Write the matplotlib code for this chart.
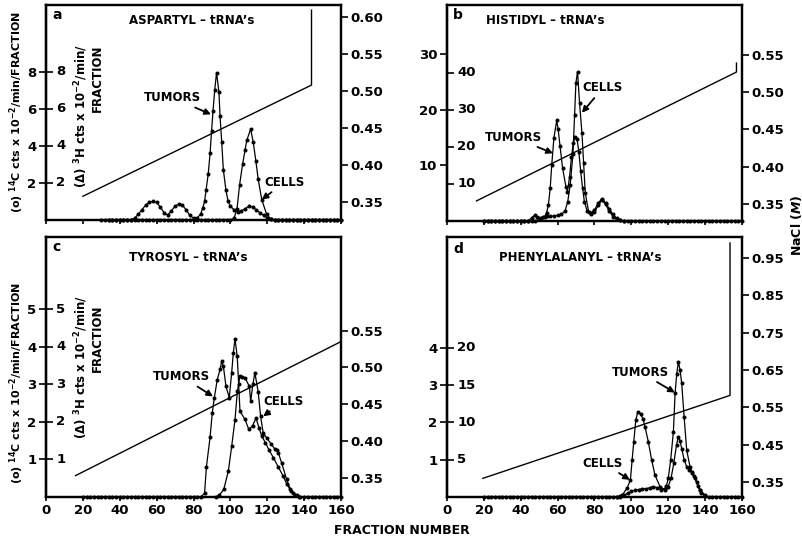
import matplotlib
matplotlib.use("Agg")
import matplotlib.pyplot as plt

plt.rcParams['font.family'] = ['DejaVu Sans']
plt.rcParams['font.weight'] = 'bold'
plt.rcParams['font.size'] = 9

# ---- panel a : aspartyl ----
a_tum_f = [34, 36, 38, 40, 42, 44, 46, 48, 50, 52, 54, 56, 58, 60, 62, 64, 66, 68, 70, 72, 74, 76, 78, 80, 82,
           84, 85, 86, 86.8, 88, 89, 89.8, 90.6, 91.5, 92.5, 93.8, 94.4, 95.3, 96.2, 97.6, 98.8, 100, 102, 104,
           106, 108, 110, 112, 114, 116, 118, 120, 122, 124, 126, 128, 130, 132, 134, 136, 138, 140, 142, 144,
           146, 148, 150, 152, 154, 156, 158, 160]
a_tum_v = [0, 0, 0, 0, 0, 0, 0, 0.1, 0.3, 0.55, 0.8, 0.95, 1.0, 0.95, 0.7, 0.4, 0.27, 0.5, 0.75, 0.86, 0.8, 0.55,
           0.25, 0.1, 0.1, 0.35, 0.65, 1.0, 1.6, 2.5, 3.6, 4.8, 5.9, 7.0, 7.95, 6.9, 5.6, 4.2, 2.7, 1.6, 1.0, 0.75,
           0.55, 0.45, 0.5, 0.6, 0.75, 0.7, 0.55, 0.4, 0.25, 0.12, 0.05, 0, 0, 0, 0, 0, 0, 0, 0, 0, 0, 0, 0, 0, 0, 0,
           0, 0, 0, 0]
a_cel_f = [30, 32, 34, 36, 38, 40, 42, 44, 46, 48, 50, 52, 54, 56, 58, 60, 62, 64, 66, 68, 70, 72, 74, 76, 78, 80,
           82, 84, 86, 88, 90, 92, 94, 96, 98, 100, 102, 103.6, 105, 106.6, 108, 108.9, 111, 112.4, 113.8, 115.1,
           117, 119.7, 122, 124, 126, 128, 130, 132, 134, 136, 138, 140, 142, 144, 146, 148, 150, 152, 154, 156,
           158, 160]
a_cel_v = [0, 0, 0, 0, 0, 0, 0, 0, 0, 0, 0, 0, 0, 0, 0, 0, 0, 0, 0, 0, 0, 0, 0, 0, 0, 0, 0, 0, 0, 0, 0, 0, 0, 0,
           0, 0, 0.1, 0.6, 1.9, 3.0, 3.8, 4.3, 4.9, 4.2, 3.2, 2.2, 1.1, 0.3, 0.05, 0, 0, 0, 0, 0, 0, 0, 0, 0, 0,
           0, 0, 0, 0, 0, 0, 0, 0, 0]
a_nacl_f = [20, 144, 144]
a_nacl_v = [0.358, 0.508, 0.609]

# ---- panel b : histidyl ----
b_tum_f = [20, 22, 24, 26, 28, 30, 32, 34, 36, 38, 40, 42, 44, 46, 47.7, 49, 51, 53, 54, 55, 56, 56.8, 58, 59.5,
           60.3, 61.3, 62.7, 64.5, 65.3, 66.5, 67.5, 68.5, 69.5, 70.5, 71.5, 72.5, 73.5, 74.5, 76, 78, 80, 82, 84,
           86, 88, 90, 92, 94, 96]
b_tum_v = [0, 0, 0, 0, 0, 0, 0, 0, 0, 0, 0, 0, 0, 0.6, 1.1, 0.8, 0.6, 0.8, 1.5, 2.9, 6.0, 10.1, 15.0, 18.1, 16.5,
           13.5, 9.5, 6.2, 5.3, 8.0, 11.5, 14.0, 15.2, 14.8, 12.5, 9.0, 6.0, 3.5, 1.8, 1.3, 1.6, 2.8, 3.8, 3.0,
           1.8, 0.8, 0.3, 0.1, 0]
b_cel_f = [20, 22, 24, 26, 28, 30, 32, 34, 36, 38, 40, 42, 44, 46, 48, 50, 52, 54, 56, 58, 60, 62, 64, 65.5, 66.8,
           68.3, 69.2, 69.9, 70.8, 71.9, 73.2, 74.1, 75, 76.8, 78, 80, 82, 83.9, 86, 88, 90, 92, 94, 96, 98, 100,
           102, 104, 106, 108, 110, 112, 114, 116, 118, 120, 122, 124, 126, 128, 130, 132, 134, 136, 138, 140,
           142, 144, 146, 148, 150, 152, 154, 156, 158, 160]
b_cel_v = [0, 0, 0, 0, 0, 0, 0, 0, 0, 0, 0, 0, 0, 0, 0, 0.3, 0.8, 0.9, 0.9, 0.9, 1.0, 1.2, 1.8, 3.5, 6.5, 12.0,
           19.0, 24.8, 26.9, 21.2, 15.8, 10.4, 5.0, 1.7, 1.4, 2.0, 3.2, 4.0, 3.3, 2.2, 1.2, 0.5, 0.1, 0, 0, 0, 0,
           0, 0, 0, 0, 0, 0, 0, 0, 0, 0, 0, 0, 0, 0, 0, 0, 0, 0, 0, 0, 0, 0, 0, 0, 0, 0, 0, 0, 0]
b_nacl_f = [16, 157, 157]
b_nacl_v = [0.354, 0.527, 0.539]

# ---- panel c : tyrosyl ----
c_tum_f = [20, 22, 24, 26, 28, 30, 32, 34, 36, 38, 40, 42, 44, 46, 48, 50, 52, 54, 56, 58, 60, 62, 64, 66, 68, 70,
           72, 74, 76, 78, 80, 82, 84, 86, 87, 89, 90.2, 91.3, 92.9, 94.4, 95.3, 96.2, 97.6, 99.4, 100.7, 101.6,
           102.5, 103.7, 104.5, 105.2, 107.9, 110, 112, 113.9, 115.5, 117, 119, 121, 123.3, 126, 128.7, 130.5,
           132.4, 134, 136, 138, 140, 142, 144, 146, 148, 150, 152, 154, 156, 158, 160]
c_tum_v = [0, 0, 0, 0, 0, 0, 0, 0, 0, 0, 0, 0, 0, 0, 0, 0, 0, 0, 0, 0, 0, 0, 0, 0, 0, 0, 0, 0, 0, 0, 0, 0, 0,
           0.1, 0.8, 1.6, 2.25, 2.65, 3.13, 3.4, 3.62, 3.49, 2.95, 2.65, 3.31, 3.84, 4.22, 3.75, 3.0, 2.29, 2.07,
           1.8, 1.9, 2.1, 1.85, 1.62, 1.45, 1.25, 1.05, 0.8, 0.55, 0.35, 0.2, 0.1, 0.05, 0, 0, 0, 0, 0, 0, 0, 0,
           0, 0, 0, 0]
c_cel_f = [92, 94, 96.4, 98.9, 100.7, 102.5, 103.8, 105.2, 106.5, 107.9, 110.3, 111, 112.2, 113.3, 115.1, 116.4,
           117.8, 119.6, 122.3, 124.2, 125.2, 126, 127.8, 130.5, 133, 135, 137]
c_cel_v = [0, 0.05, 0.2, 0.69, 1.35, 2.06, 2.82, 3.22, 3.2, 3.18, 2.95, 2.55, 3.0, 3.31, 2.8, 2.15, 1.71, 1.58,
           1.4, 1.27, 1.25, 1.18, 0.91, 0.47, 0.15, 0.05, 0]
c_nacl_f = [16, 160]
c_nacl_v = [0.353, 0.535]

# ---- panel d : phenylalanyl ----
d_tum_f = [20, 22, 24, 26, 28, 30, 32, 34, 36, 38, 40, 42, 44, 46, 48, 50, 52, 54, 56, 58, 60, 62, 64, 66, 68, 70,
           72, 74, 76, 78, 80, 82, 84, 86, 88, 90, 92, 94, 96, 98, 100, 102, 104, 106, 108, 110, 112, 114, 116,
           118, 119, 120, 121.3, 122.8, 123.7, 124.6, 125.5, 126.4, 127.3, 128.6, 130, 131.8, 133, 134.5, 136,
           137.2, 140, 142, 144, 146, 148, 150, 152, 154, 156, 158, 160]
d_tum_v = [0, 0, 0, 0, 0, 0, 0, 0, 0, 0, 0, 0, 0, 0, 0, 0, 0, 0, 0, 0, 0, 0, 0, 0, 0, 0, 0, 0, 0, 0, 0, 0, 0, 0,
           0, 0, 0, 0, 0.05, 0.1, 0.15, 0.18, 0.2, 0.22, 0.22, 0.25, 0.28, 0.25, 0.2, 0.22, 0.3, 0.5, 0.99, 1.75,
           2.78, 3.3, 3.63, 3.4, 3.05, 2.15, 1.26, 0.81, 0.65, 0.5, 0.3, 0.19, 0.05, 0, 0, 0, 0, 0, 0, 0, 0, 0, 0]
d_cel_f = [92, 94, 95, 97.7, 99.5, 100.4, 101.3, 102.4, 103.5, 105, 106.3, 107.4, 109.2, 111, 112.8, 115.5, 118.2,
           120, 121.5, 123, 124.5, 125.5, 126.4, 127.3, 128.6, 130, 131.5, 132.7, 134, 135.4, 137, 138, 140]
d_cel_v = [0, 0.02, 0.05, 0.24, 0.46, 0.99, 1.48, 2.06, 2.29, 2.22, 2.1, 1.88, 1.48, 0.99, 0.59, 0.28, 0.19, 0.28,
           0.5, 0.9, 1.4, 1.62, 1.5, 1.3, 1.0, 0.81, 0.72, 0.68, 0.55, 0.41, 0.2, 0.1, 0.02]
d_nacl_f = [19.5, 153.5, 153.5]
d_nacl_v = [0.36, 0.582, 0.99]

fractions = [0, 20, 40, 60, 80, 100, 120, 140, 160]

W, H = 803, 540
fig = plt.figure(figsize=(W / 100, H / 100), dpi=100)


def rect(left, top, right, bottom):
    return [left / W, 1 - bottom / H, (right - left) / W, (bottom - top) / H]


def panel(r, ytop, outer, inner, ratio, nlim, nticks, xlab):
    ax = fig.add_axes(r)
    ax.set_xlim(0, 160)
    ax.set_ylim(0, ytop)
    ax.set_xticks(fractions)
    if xlab:
        ax.set_xticklabels([str(f) for f in fractions], fontsize=9.5)
    else:
        ax.set_xticklabels([])
    ax.tick_params(axis='x', direction='out', length=3, width=1.2, pad=2)
    ax.set_yticks(outer)
    ax.set_yticklabels([str(t) for t in outer], fontsize=9.5)
    ax.tick_params(axis='y', direction='out', length=5, width=1.2, pad=2)
    for s in ax.spines.values():
        s.set_linewidth(1.6)
    sec = ax.secondary_yaxis('left', functions=(lambda v: v * ratio, lambda v: v / ratio))
    sec.set_yticks(inner)
    sec.set_yticklabels([])
    sec.tick_params(axis='y', direction='in', length=5, width=1.2)
    sec.spines['left'].set_linewidth(1.6)
    for t in inner:
        ax.text(0.035, t / ratio, str(t), transform=ax.get_yaxis_transform(),
                ha='left', va='center', fontsize=9.5)
    tw = ax.twinx()
    tw.set_ylim(*nlim)
    tw.set_yticks(nticks)
    tw.set_yticklabels(['%.2f' % t for t in nticks], fontsize=9.5)
    tw.tick_params(axis='y', direction='out', length=5, width=1.2, pad=2)
    for s in tw.spines.values():
        s.set_linewidth(1.6)
    return ax, tw


def curve(ax, f, v):
    ax.plot(f, v, '-', color='black', lw=0.9, marker='o', ms=1.9, clip_on=False, zorder=3)


arrow = dict(arrowstyle='-|>', color='black', lw=1.3, mutation_scale=9, shrinkA=1, shrinkB=0)

# panel a
ax, tw = panel(rect(46, 5, 341, 220), 11.6, [2, 4, 6, 8], [2, 4, 6, 8], 1,
               (0.326, 0.616), [0.35, 0.40, 0.45, 0.50, 0.55, 0.60], False)
curve(ax, a_tum_f, a_tum_v)
curve(ax, a_cel_f, a_cel_v)
tw.plot(a_nacl_f, a_nacl_v, color='black', lw=1.0)
ax.text(0.02, 0.955, 'a', transform=ax.transAxes, fontsize=10, ha='left', va='center')
ax.text(0.495, 0.93, "ASPARTYL – tRNA’s", transform=ax.transAxes, ha='center', va='center', fontsize=8.5)
ax.annotate('TUMORS', xy=(89.5, 5.7), xytext=(68.5, 6.6), ha='center', va='center', fontsize=8.5,
            arrowprops=arrow)
ax.annotate('CELLS', xy=(117, 1.1), xytext=(129.6, 2.05), ha='center', va='center', fontsize=8.5,
            arrowprops=arrow)

# panel b
ax, tw = panel(rect(447, 5, 742, 221), 38.9, [10, 20, 30], [10, 20, 30, 40], 1.5,
               (0.327, 0.617), [0.35, 0.40, 0.45, 0.50, 0.55], False)
curve(ax, b_tum_f, b_tum_v)
curve(ax, b_cel_f, b_cel_v)
tw.plot(b_nacl_f, b_nacl_v, color='black', lw=1.0)
ax.text(0.02, 0.955, 'b', transform=ax.transAxes, fontsize=10, ha='left', va='center')
ax.text(0.332, 0.93, "HISTIDYL – tRNA’s", transform=ax.transAxes, ha='center', va='center', fontsize=8.5)
ax.annotate('TUMORS', xy=(57.5, 12.2), xytext=(36, 15.1), ha='center', va='center', fontsize=8.5,
            arrowprops=arrow)
ax.annotate('CELLS', xy=(73.2, 19.5), xytext=(84.6, 24), ha='center', va='center', fontsize=8.5,
            arrowprops=arrow)

# panel c
ax, tw = panel(rect(46, 237, 341, 497), 6.93, [1, 2, 3, 4, 5], [1, 2, 3, 4, 5], 1,
               (0.324, 0.677), [0.35, 0.40, 0.45, 0.50, 0.55], True)
curve(ax, c_tum_f, c_tum_v)
curve(ax, c_cel_f, c_cel_v)
tw.plot(c_nacl_f, c_nacl_v, color='black', lw=1.0)
ax.text(0.02, 0.96, 'c', transform=ax.transAxes, fontsize=10, ha='left', va='center')
ax.text(0.481, 0.923, "TYROSYL – tRNA’s", transform=ax.transAxes, ha='center', va='center', fontsize=8.5)
ax.annotate('TUMORS', xy=(90.6, 2.68), xytext=(73.6, 3.21), ha='center', va='center', fontsize=8.5,
            arrowprops=arrow)
ax.annotate('CELLS', xy=(117.8, 2.15), xytext=(128.7, 2.55), ha='center', va='center', fontsize=8.5,
            arrowprops=arrow)

# panel d
ax, tw = panel(rect(447, 237, 742, 497), 6.97, [1, 2, 3, 4], [5, 10, 15, 20], 5,
               (0.31, 1.006), [0.35, 0.45, 0.55, 0.65, 0.75, 0.85, 0.95], True)
curve(ax, d_tum_f, d_tum_v)
curve(ax, d_cel_f, d_cel_v)
tw.plot(d_nacl_f, d_nacl_v, color='black', lw=1.0)
ax.text(0.02, 0.955, 'd', transform=ax.transAxes, fontsize=10, ha='left', va='center')
ax.text(0.451, 0.923, "PHENYLALANYL – tRNA’s", transform=ax.transAxes, ha='center', va='center', fontsize=8.5)
ax.annotate('TUMORS', xy=(123.6, 2.8), xytext=(104.7, 3.35), ha='center', va='center', fontsize=8.5,
            arrowprops=arrow)
ax.annotate('CELLS', xy=(99.2, 0.46), xytext=(84.6, 0.91), ha='center', va='center', fontsize=8.5,
            arrowprops=arrow)

# shared labels
c14 = r'(o) $^{\mathbf{14}}$C cts x 10$^{\mathbf{-2}}$/min/FRACTION'
h3 = r'($\Delta$) $^{\mathbf{3}}$H cts x 10$^{\mathbf{-2}}$/min/'
for yc, y1, y2 in [(112, 116, 78), (383, 367, 338)]:
    fig.text(17 / W, 1 - yc / H, c14, rotation=90, ha='center', va='center', fontsize=8)
    fig.text(81 / W, 1 - y1 / H, h3, rotation=90, ha='center', va='center', fontsize=8.5)
    fig.text(97 / W, 1 - y2 / H, 'FRACTION', rotation=90, ha='center', va='center', fontsize=8.5)

fig.text(797 / W, 1 - 225 / H, r'NaCl ($\mathbfit{M}$)', rotation=90, ha='center', va='center', fontsize=9)
fig.text(402 / W, 1 - 530 / H, 'FRACTION NUMBER', ha='center', va='center', fontsize=9)

fig.savefig('out.png', dpi=100)
